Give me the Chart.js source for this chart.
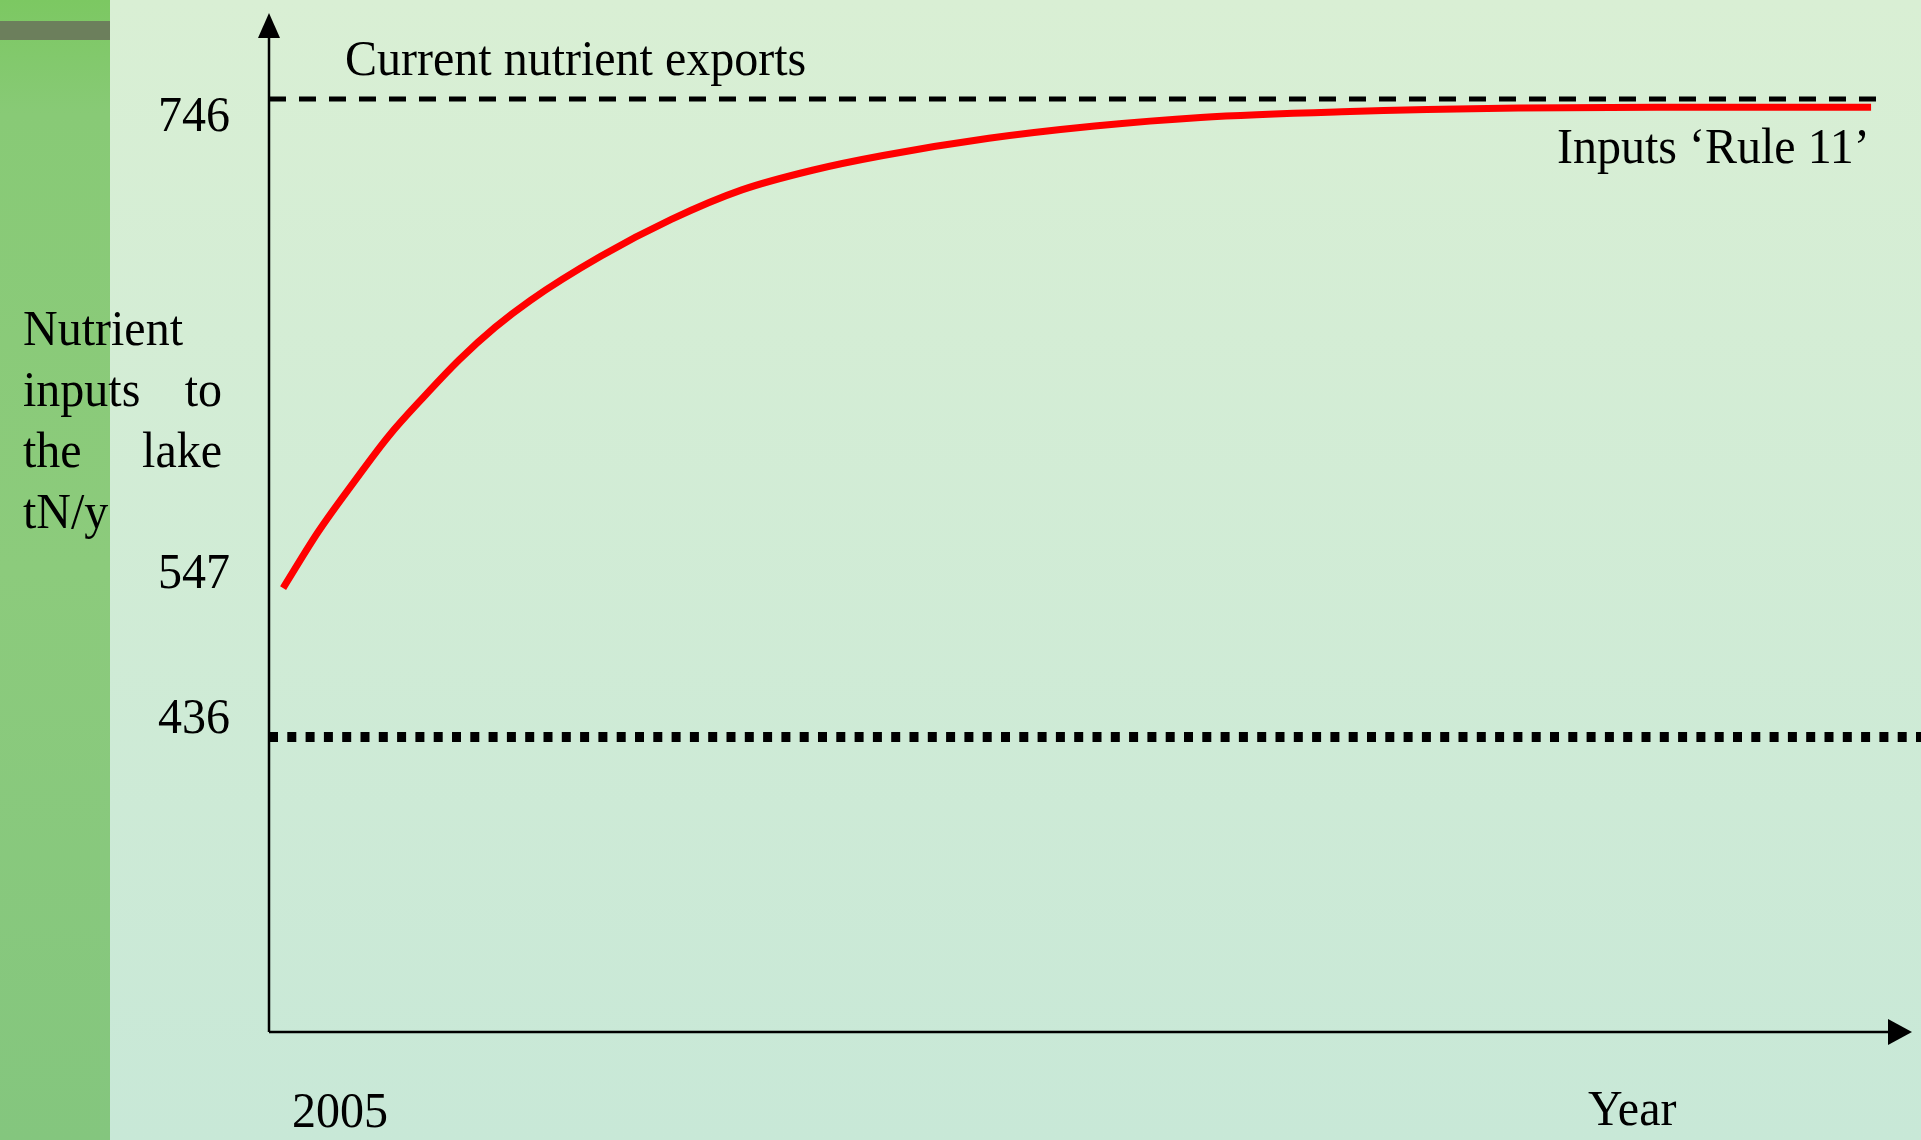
<!DOCTYPE html>
<html>
<head>
<meta charset="utf-8">
<title>Nutrient inputs to the lake</title>
<script src="https://cdn.jsdelivr.net/npm/chart.js@4.4.1/dist/chart.umd.min.js"></script>
<style>
  html, body { margin: 0; padding: 0; background: #d3ecd6; overflow: hidden; }
  canvas { display: block; }
</style>
</head>
<body>
<canvas id="nutrientChart" width="1921" height="1140"></canvas>
<script>
// values (tN/y)
const years = [2005, 2006, 2007, 2008, 2009, 2010, 2011, 2012, 2014, 2016, 2018, 2020, 2022, 2025, 2028, 2031, 2035, 2040, 2045, 2050];
const rule11Inputs = [547, 570, 590, 609, 625, 640, 653, 664, 682, 697, 709, 717, 723, 730, 735, 738.5, 740.8, 742.3, 742.6, 742.6];
const currentExports = 746;
const lowerLevel = 436;
const exportYears = [2004.6, 2050.5];
const lowerYears = [2004.6, 2051.5];

const yTickValues = [746, 547, 436];
const yTickLabels = ['746', '547', '436'];
const xTickValues = [2005];
const xTickLabels = ['2005'];

const FONT = '48px "Liberation Serif", "Times New Roman", serif';

// the y axis of the sketch is not drawn to scale, each tick sits at its own height
const tickHeights = [0.9156, 0.4357, 0.2895]; // share of the axis height, same order as yTickValues
const knots = yTickValues.map((v, i) => [v, tickHeights[i]]).sort((a, b) => a[0] - b[0]);
const knotVals = knots.map(k => k[0]);
const knotFracs = knots.map(k => k[1]);

function interp(v, xs, ys) {
  let i = 0;
  while (i < xs.length - 2 && v > xs[i + 1]) i++;
  const t = (v - xs[i]) / (xs[i + 1] - xs[i]);
  return ys[i] + t * (ys[i + 1] - ys[i]);
}

class SketchScale extends Chart.LinearScale {
  static id = 'sketch';
  static defaults = Chart.LinearScale.defaults;
  getPixelForValue(value) {
    const f = interp(value, knotVals, knotFracs);
    return this.bottom - f * (this.bottom - this.top);
  }
  getValueForPixel(pixel) {
    const f = (this.bottom - pixel) / (this.bottom - this.top);
    return interp(f, knotFracs, knotVals);
  }
}
Chart.register(SketchScale);

// the lettering of the original is a little taller than the font
function text(ctx, str, x, y) {
  ctx.save();
  ctx.translate(x, y);
  ctx.scale(1, 1.07);
  ctx.fillText(str, 0, 0);
  ctx.restore();
}

const backgroundPlugin = {
  id: 'background',
  beforeDraw(chart) {
    const ctx = chart.ctx;
    const w = chart.width, h = chart.height;
    ctx.save();
    let g = ctx.createLinearGradient(0, 0, 0, h);
    g.addColorStop(0, '#d9efd4');
    g.addColorStop(1, '#c8e8d7');
    ctx.fillStyle = g;
    ctx.fillRect(0, 0, w, h);
    // green strip on the left
    g = ctx.createLinearGradient(0, 0, 0, h);
    g.addColorStop(0, '#7cc862');
    g.addColorStop(0.1, '#88ca76');
    g.addColorStop(0.5, '#8ccb7c');
    g.addColorStop(1, '#84c67e');
    ctx.fillStyle = g;
    ctx.fillRect(0, 0, 110, h);
    ctx.fillStyle = '#6c7f5c';
    ctx.fillRect(0, 21, 110, 19);
    ctx.restore();
  }
};

const sketchPlugin = {
  id: 'sketch',
  afterDatasetsDraw(chart) {
    const ctx = chart.ctx;
    const a = chart.chartArea;
    const xs = chart.scales.x, ys = chart.scales.y;
    ctx.save();
    ctx.strokeStyle = '#000';
    ctx.fillStyle = '#000';
    ctx.lineWidth = 2.5;

    // axes with arrow heads
    ctx.beginPath();
    ctx.moveTo(a.left, a.bottom);
    ctx.lineTo(a.left, a.top + 20);
    ctx.moveTo(a.left, a.bottom);
    ctx.lineTo(a.right - 20, a.bottom);
    ctx.stroke();
    ctx.beginPath();
    ctx.moveTo(a.left, a.top);
    ctx.lineTo(a.left - 11, a.top + 25);
    ctx.lineTo(a.left + 11, a.top + 25);
    ctx.closePath();
    ctx.fill();
    ctx.beginPath();
    ctx.moveTo(a.right, a.bottom);
    ctx.lineTo(a.right - 24, a.bottom - 13);
    ctx.lineTo(a.right - 24, a.bottom + 13);
    ctx.closePath();
    ctx.fill();

    ctx.font = FONT;
    ctx.textBaseline = 'alphabetic';

    // y tick labels
    const nudge = [32, 0, -4];
    ctx.textAlign = 'right';
    yTickValues.forEach((v, i) => {
      text(ctx, yTickLabels[i], 230, ys.getPixelForValue(v) + nudge[i]);
    });

    // x tick labels
    ctx.textAlign = 'left';
    xTickValues.forEach((v, i) => {
      text(ctx, xTickLabels[i], xs.getPixelForValue(v) + 9, 1127);
    });
    text(ctx, 'Year', 1588, 1125);

    // y axis title, justified block
    text(ctx, 'Nutrient', 23, 345);
    text(ctx, 'inputs', 23, 406);
    text(ctx, 'the', 23, 467);
    text(ctx, 'tN/y', 23, 528);
    ctx.textAlign = 'right';
    text(ctx, 'to', 222, 406);
    text(ctx, 'lake', 222, 467);

    // line notes
    ctx.textAlign = 'left';
    text(ctx, 'Current nutrient exports', 345, ys.getPixelForValue(currentExports) - 24);
    text(ctx, 'Inputs \u2018Rule 11\u2019', 1557, 163);
    ctx.restore();
  }
};

const ctx = document.getElementById('nutrientChart').getContext('2d');
const nutrientChart = new Chart(ctx, {
  type: 'line',
  data: {
    datasets: [
      {
        label: 'Current nutrient exports',
        data: exportYears.map(x => ({ x: x, y: currentExports })),
        borderColor: '#000',
        borderWidth: 5,
        borderDash: [17, 13],
        pointRadius: 0,
        clip: false
      },
      {
        label: 'Lower level',
        data: lowerYears.map(x => ({ x: x, y: lowerLevel })),
        borderColor: '#000',
        borderWidth: 10,
        borderDash: [9, 9.3],
        pointRadius: 0,
        clip: false
      },
      {
        label: 'Inputs \u2018Rule 11\u2019',
        data: years.map((x, i) => ({ x: x, y: rule11Inputs[i] })),
        borderColor: '#ff0000',
        borderWidth: 7,
        cubicInterpolationMode: 'monotone',
        pointRadius: 0,
        clip: false
      }
    ]
  },
  options: {
    responsive: false, // fixed canvas size
    animation: false,
    events: [],
    layout: { padding: { left: 269, right: 9, top: 13, bottom: 108 } },
    scales: {
      x: { type: 'linear', min: 2004.6, max: 2051.16, display: false },
      y: { type: 'sketch', min: 216, max: 781, display: false }
    },
    plugins: {
      legend: { display: false },
      tooltip: { enabled: false }
    }
  },
  plugins: [backgroundPlugin, sketchPlugin]
});
</script>
</body>
</html>
